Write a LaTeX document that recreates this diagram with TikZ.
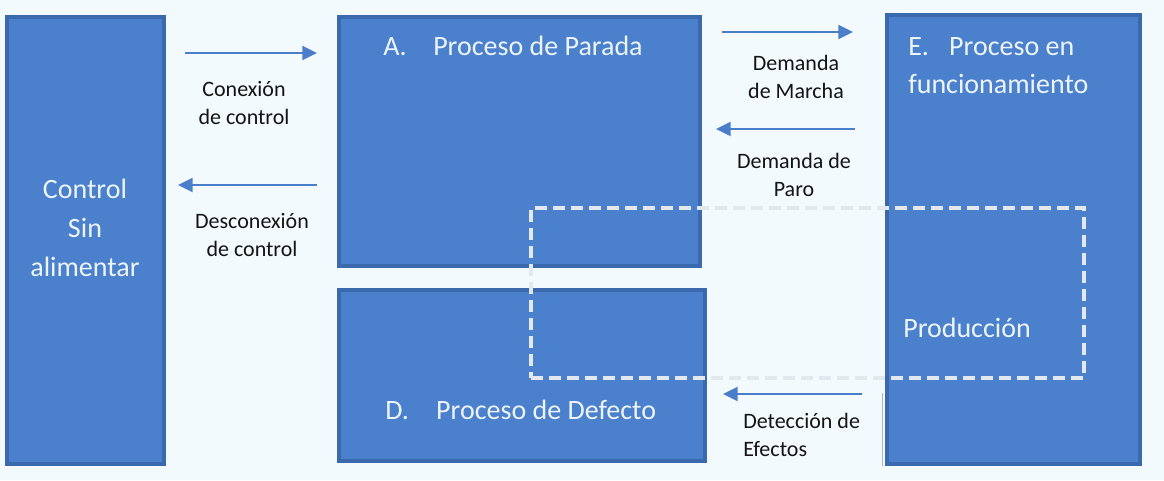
\documentclass[tikz,border=0pt]{standalone}
\usepackage{fontspec}
\setmainfont{Carlito}
\usetikzlibrary{arrows.meta}

\definecolor{bgcol}{HTML}{F3FAFD}
\definecolor{boxfill}{HTML}{4A80CC}
\definecolor{boxline}{HTML}{3A69AE}
\definecolor{boxtxt}{HTML}{EEF4FB}
\definecolor{arrowcol}{HTML}{4A7ECA}
\definecolor{dashcol}{HTML}{E2E8EE}
\definecolor{labeltxt}{HTML}{141414}

\begin{document}
\begin{tikzpicture}[x=0.75pt, y=-0.75pt, >={Triangle[length=11pt,width=10.5pt]},
  procbox/.style={draw=boxline, fill=boxfill, line width=3pt, rectangle},
  boxtitle/.style={text=boxtxt, inner sep=0pt, font=\fontsize{21pt}{29pt}\selectfont},
  flowlabel/.style={text=labeltxt, inner sep=0pt, align=center, font=\fontsize{16.5pt}{21pt}\selectfont},
  flow/.style={->, draw=arrowcol, line width=1.6pt}]
  \useasboundingbox[fill=bgcol] (0,0) rectangle (1164,480);

  \node[procbox, minimum width=117.75pt, minimum height=335.25pt] (ctrl) at (85.5,240.5) {};
  \node[procbox, minimum width=270.75pt, minimum height=186.75pt] (parada) at (519.5,141.5) {};
  \node[procbox, minimum width=274.5pt, minimum height=128.25pt] (defecto) at (522,375.5) {};
  \node[procbox, minimum width=189.75pt, minimum height=336.75pt] (marcha) at (1013.5,239.5) {};
  \node[draw=dashcol, line width=3pt, dash pattern=on 9pt off 4.5pt, rectangle,
        minimum width=414.75pt, minimum height=127.5pt] (prod) at (807.5,293) {};

  \node[boxtitle, align=center] (ctrltxt) at (85,228) {Control\\Sin\\alimentar};
  \node[boxtitle, anchor=base west] (paradatxt) at (383,55) {\makebox[37.5pt][l]{A.}Proceso de Parada};
  \node[boxtitle, anchor=base west] (defectotxt) at (385,419) {\makebox[38.25pt][l]{D.}Proceso de Defecto};
  \node[boxtitle, anchor=north west, align=left] (marchatxt) at (908,37) {\makebox[30.75pt][l]{E.}Proceso en\\funcionamiento};
  \node[boxtitle, anchor=base west] (prodtxt) at (903,337) {Producción};

  \draw[flow] ([shift={(19,38)}]ctrl.north east) -- ([shift={(-20,38)}]parada.north west);
  \draw[flow] ([shift={(-20,170)}]parada.north west) -- ([shift={(12,170)}]ctrl.north east);
  \draw[flow] ([shift={(20,17)}]parada.north east) -- ([shift={(-32,19)}]marcha.north west);
  \draw[flow] ([shift={(-30,116)}]marcha.north west) -- ([shift={(14,114)}]parada.north east);
  \draw[flow] ([shift={(-23,-72)}]marcha.south west) -- ([shift={(16,106)}]defecto.north east);
  \draw[draw=gray!60, line width=0.75pt] ([shift={(-3,0)}]marcha.south west) -- ([shift={(-3,-73)}]marcha.south west);

  \node[flowlabel] (conlbl) at (244,103.5) {Conexión\\de control};
  \node[flowlabel] (desconlbl) at (252,235.5) {Desconexión\\de control};
  \node[flowlabel] (marchalbl) at (796,76.5) {Demanda\\de Marcha};
  \node[flowlabel] (parolbl) at (794,175) {Demanda de\\Paro};
  \node[flowlabel, align=left, anchor=west] (detlbl) at (743,434.5) {Detección de\\Efectos};
\end{tikzpicture}
\end{document}
